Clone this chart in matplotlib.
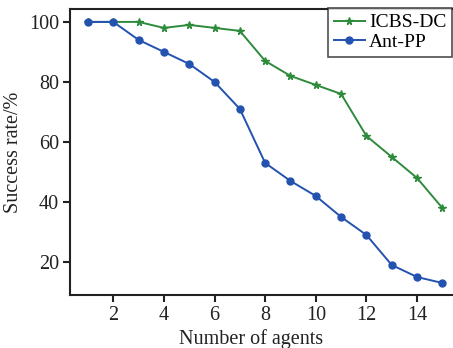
import matplotlib
matplotlib.use('Agg')
import matplotlib.pyplot as plt

agents = [1, 2, 3, 4, 5, 6, 7, 8, 9, 10, 11, 12, 13, 14, 15]
icbs_dc = [100, 100, 100, 98, 99, 98, 97, 87, 82, 79, 76, 62, 55, 48, 38]
ant_pp = [100, 100, 94, 90, 86, 80, 71, 53, 47, 42, 35, 29, 19, 15, 13]
xticks = [2, 4, 6, 8, 10, 12, 14]
yticks = [20, 40, 60, 80, 100]

plt.rcParams['font.family'] = ['Liberation Serif', 'DejaVu Serif']

fig = plt.figure(figsize=(4.53, 3.48), dpi=100)
ax = fig.add_axes([70 / 453, 1 - 295 / 348, 1 - 70 / 453 + 0.01, (295 - 9) / 348])

ax.plot(agents, icbs_dc, color='#2e8b3c', marker='*', markersize=5.5, linewidth=1.4, label='ICBS-DC')
ax.plot(agents, ant_pp, color='#2352b0', marker='o', markersize=5, linewidth=1.4, label='Ant-PP')

ax.set_xlim(0.29, 15.6)
ax.set_ylim(9, 104.3)
ax.set_xticks(xticks)
ax.set_yticks(yticks)
ax.tick_params(direction='out', length=5, width=1.5, labelsize=14.5, colors='#222222', pad=3)
for s in ax.spines.values():
    s.set_linewidth(1.5)
    s.set_color('#222222')
ax.spines['right'].set_visible(False)

ax.set_xlabel('Number of agents', fontsize=14.5, color='#222222')
ax.xaxis.set_label_coords((251 - 70) / 387.5, -0.12)
ax.set_ylabel('Success rate/%', fontsize=14.5, color='#222222', labelpad=4)

leg = fig.legend(loc='upper left', bbox_to_anchor=(328 / 453, 1 - 8 / 348), fontsize=14,
                 frameon=True, fancybox=False, borderaxespad=0, handlelength=1.6,
                 handletextpad=0.2, borderpad=0.3, labelspacing=0.1)
leg.get_frame().set_edgecolor('#222222')
leg.get_frame().set_linewidth(1.2)

fig.savefig('out.png', dpi=100)
